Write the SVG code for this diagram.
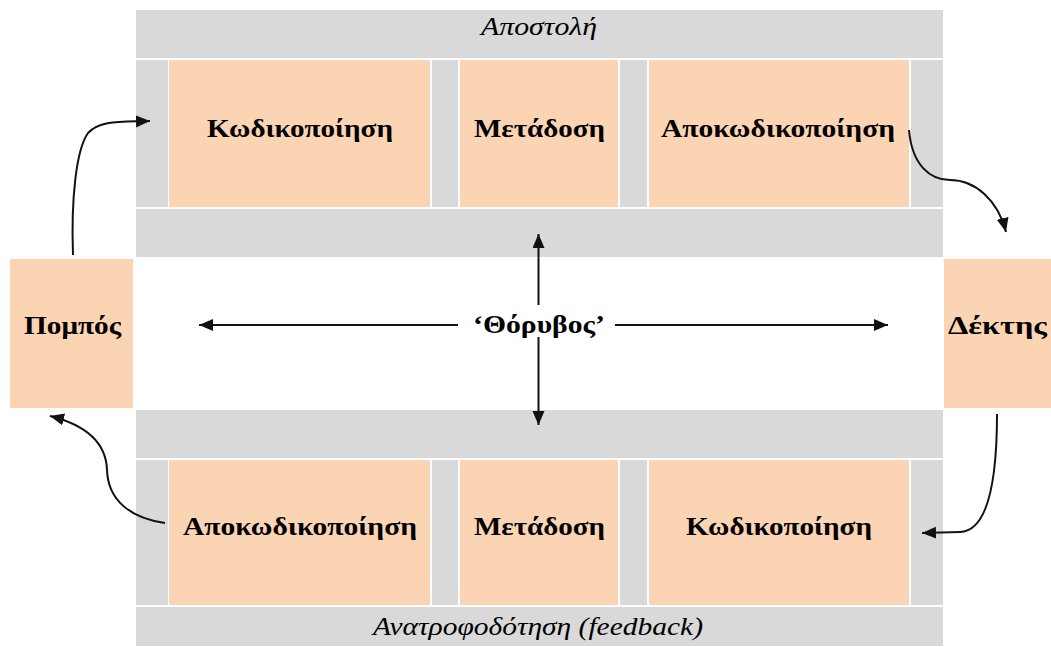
<svg xmlns="http://www.w3.org/2000/svg" width="1051" height="647" viewBox="0 0 1051 647">
<defs>
<style>
.g{fill:#d9d9d9}
.p{fill:#fbd4b4}
.b{font-family:"Liberation Serif","Times New Roman",serif;font-weight:bold;font-size:26px;fill:#000;text-anchor:middle}
.i{font-family:"Liberation Serif","Times New Roman",serif;font-style:italic;font-size:25px;fill:#000;text-anchor:middle}
.c{fill:none;stroke:#111;stroke-width:2}
</style>
<marker id="ah" markerUnits="userSpaceOnUse" markerWidth="16" markerHeight="14" refX="14" refY="6" orient="auto">
<path d="M0,0 L14,6 L0,12 z" fill="#111"/>
</marker>
</defs>
<rect width="1051" height="647" fill="#fff"/>
<g id="send-band">
<rect class="g" x="136" y="10" width="807" height="48"/>
<text class="i" x="539" y="35" textLength="116" lengthAdjust="spacingAndGlyphs">Αποστολή</text>
</g>
<g id="send-row">
<rect class="g" x="136" y="60" width="32" height="147"/>
<rect class="g" x="432" y="60" width="26" height="147"/>
<rect class="g" x="620" y="60" width="27" height="147"/>
<rect class="g" x="911" y="60" width="32" height="147"/>
<rect class="g" x="136" y="209" width="807" height="48"/>
</g>
<g id="send-encode"><rect class="p" x="169" y="60" width="261" height="147"/><text class="b" x="300" y="137" textLength="186" lengthAdjust="spacingAndGlyphs">Κωδικοποίηση</text></g>
<g id="send-transmit"><rect class="p" x="460" y="60" width="158" height="147"/><text class="b" x="539.5" y="137" textLength="131" lengthAdjust="spacingAndGlyphs">Μετάδοση</text></g>
<g id="send-decode"><rect class="p" x="649" y="60" width="260" height="147"/><text class="b" x="778" y="137" textLength="234" lengthAdjust="spacingAndGlyphs">Αποκωδικοποίηση</text></g>
<g id="sender"><rect class="p" x="10" y="259" width="123" height="149"/><text class="b" x="72.5" y="334" textLength="97" lengthAdjust="spacingAndGlyphs">Πομπός</text></g>
<g id="receiver"><rect class="p" x="944" y="259" width="110" height="149"/><text class="b" x="997.5" y="334" textLength="99" lengthAdjust="spacingAndGlyphs">Δέκτης</text></g>
<g id="noise"><text class="b" x="539" y="333" textLength="132" lengthAdjust="spacingAndGlyphs">‘Θόρυβος’</text></g>
<g id="feedback-row">
<rect class="g" x="136" y="410" width="807" height="48"/>
<rect class="g" x="136" y="460" width="32" height="145"/>
<rect class="g" x="432" y="460" width="26" height="145"/>
<rect class="g" x="620" y="460" width="27" height="145"/>
<rect class="g" x="911" y="460" width="32" height="145"/>
</g>
<g id="fb-decode"><rect class="p" x="169" y="460" width="261" height="145"/><text class="b" x="300" y="535" textLength="234" lengthAdjust="spacingAndGlyphs">Αποκωδικοποίηση</text></g>
<g id="fb-transmit"><rect class="p" x="460" y="460" width="158" height="145"/><text class="b" x="539.5" y="535" textLength="131" lengthAdjust="spacingAndGlyphs">Μετάδοση</text></g>
<g id="fb-encode"><rect class="p" x="649" y="460" width="260" height="145"/><text class="b" x="779" y="535" textLength="186" lengthAdjust="spacingAndGlyphs">Κωδικοποίηση</text></g>
<g id="feedback-band">
<rect class="g" x="136" y="607" width="807" height="39"/>
<text class="i" x="538" y="635" textLength="330" lengthAdjust="spacingAndGlyphs">Ανατροφοδότηση (feedback)</text>
</g>
<g id="connectors">
<path class="c" d="M458,325 L199,325" marker-end="url(#ah)"/>
<path class="c" d="M615,325 L888,325" marker-end="url(#ah)"/>
<path class="c" d="M538.5,305 L538.5,234" marker-end="url(#ah)"/>
<path class="c" d="M538.5,337 L538.5,425" marker-end="url(#ah)"/>
<path class="c" d="M73,255 C71,200 76,150 88,133 C100,120 120,122 150,121" marker-end="url(#ah)"/>
<path class="c" d="M909,130 C912,165 930,180 950,180 C975,180 998,200 1006,232" marker-end="url(#ah)"/>
<path class="c" d="M997,414 C997,480 988,531 960,532 L922,533" marker-end="url(#ah)"/>
<path class="c" d="M165,523 C130,518 108,500 107,470 C106,440 82,424 50,416" marker-end="url(#ah)"/>
</g>
</svg>
